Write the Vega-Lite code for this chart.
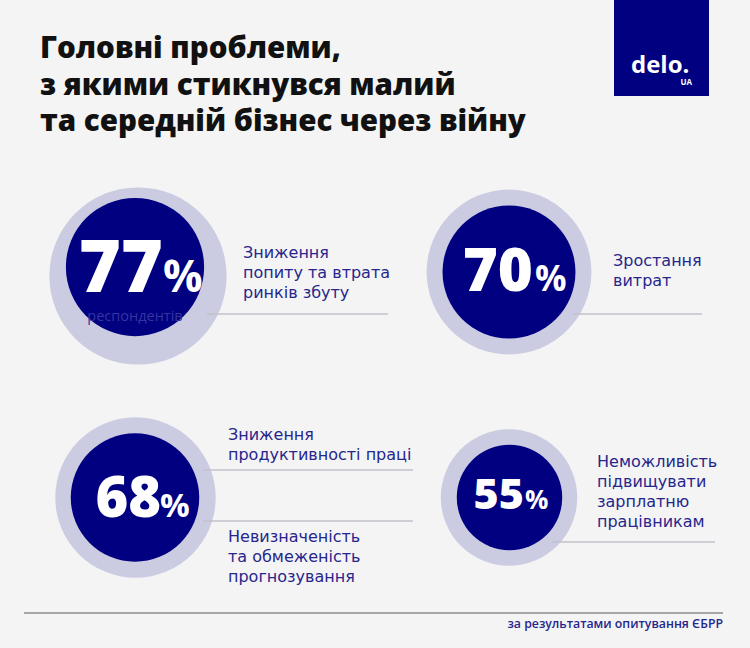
{
  "$schema": "https://vega.github.io/schema/vega-lite/v6.json",
  "width": 750,
  "height": 648,
  "autosize": {"type": "fit", "contains": "padding"},
  "padding": 0,
  "background": "#f4f4f4",
  "config": {"view": {"stroke": null}, "text": {"font": "Open Sans"}},
  "datasets": {
    "stats": [
      {"value": 77, "cx": 138, "cy": 276, "ix": 135, "iy": 267, "num": "77", "nx": 163, "ny": 292, "px": 163},
      {"value": 70, "cx": 509, "cy": 272, "ix": 509, "iy": 272, "num": "70", "nx": 533, "ny": 291, "px": 535},
      {"value": 68, "cx": 135.5, "cy": 497.5, "ix": 135, "iy": 497.5, "num": "68", "nx": 161, "ny": 517, "px": 160},
      {"value": 55, "cx": 509, "cy": 497.5, "ix": 509.5, "iy": 497.5, "num": "55", "nx": 524, "ny": 509, "px": 525}
    ],
    "labels": [
      {"x": 243, "y": 258, "text": "Зниження\nпопиту та втрата\nринків збуту"},
      {"x": 613, "y": 266, "text": "Зростання\nвитрат"},
      {"x": 228, "y": 440, "text": "Зниження\nпродуктивності праці"},
      {"x": 228, "y": 542, "text": "Невизначеність\nта обмеженість\nпрогнозування"},
      {"x": 597, "y": 467, "text": "Неможливість\nпідвищувати\nзарплатню\nпрацівникам"}
    ],
    "rules": [
      {"x": 207, "x2": 388, "y": 314},
      {"x": 573, "x2": 702, "y": 314},
      {"x": 203, "x2": 413, "y": 470},
      {"x": 203, "x2": 413, "y": 521},
      {"x": 552, "x2": 715, "y": 542}
    ]
  },
  "resolve": {"scale": {"size": "independent"}},
  "layer": [
    {
      "data": {"values": [{"x": 614, "x2": 709, "y": 0, "y2": 96}]},
      "mark": {"type": "rect", "fill": "#000080"},
      "encoding": {
        "x": {"field": "x", "type": "quantitative", "scale": {"domain": [0, 750], "nice": false, "zero": false}, "axis": null},
        "x2": {"field": "x2"},
        "y": {"field": "y", "type": "quantitative", "scale": {"domain": [0, 648], "nice": false, "zero": false, "reverse": true}, "axis": null},
        "y2": {"field": "y2"}
      }
    },
    {
      "data": {"values": [{"x": 631, "y": 73, "text": "delo."}]},
      "mark": {"type": "text", "align": "left", "baseline": "alphabetic", "fontSize": 24, "fontWeight": 700, "fill": "#ffffff"},
      "encoding": {
        "x": {"field": "x", "type": "quantitative", "axis": null},
        "y": {"field": "y", "type": "quantitative", "axis": null},
        "text": {"field": "text"}
      }
    },
    {
      "data": {"values": [{"x": 692, "y": 85, "text": "UA"}]},
      "mark": {"type": "text", "align": "right", "baseline": "alphabetic", "fontSize": 8, "fontWeight": 700, "fill": "#ffffff"},
      "encoding": {
        "x": {"field": "x", "type": "quantitative", "axis": null},
        "y": {"field": "y", "type": "quantitative", "axis": null},
        "text": {"field": "text"}
      }
    },
    {
      "data": {"values": [{"x": 40, "y": 58, "text": "Головні проблеми,\nз якими стикнувся малий\nта середній бізнес через війну"}]},
      "mark": {"type": "text", "align": "left", "baseline": "alphabetic", "fontSize": 29.5, "fontWeight": 800, "fill": "#111111", "lineBreak": "\n", "lineHeight": 36.5},
      "encoding": {
        "x": {"field": "x", "type": "quantitative", "axis": null},
        "y": {"field": "y", "type": "quantitative", "axis": null},
        "text": {"field": "text"}
      }
    },
    {
      "data": {"name": "stats"},
      "mark": {"type": "point", "shape": "circle", "filled": true, "fill": "#cbcce2", "opacity": 1, "strokeWidth": 0},
      "encoding": {
        "x": {"field": "cx", "type": "quantitative", "axis": null},
        "y": {"field": "cy", "type": "quantitative", "axis": null},
        "size": {"field": "value", "type": "quantitative", "scale": {"type": "linear", "domain": [55, 68, 70, 77], "range": [18627, 25730, 27172, 31416]}, "legend": null}
      }
    },
    {
      "data": {"name": "rules"},
      "mark": {"type": "rule", "stroke": "#c2c2ca", "strokeWidth": 1.5},
      "encoding": {
        "x": {"field": "x", "type": "quantitative", "axis": null},
        "x2": {"field": "x2"},
        "y": {"field": "y", "type": "quantitative", "axis": null}
      }
    },
    {
      "data": {"values": [{"x": 24, "x2": 723, "y": 613}]},
      "mark": {"type": "rule", "stroke": "#8c8c8c", "strokeWidth": 1.5},
      "encoding": {
        "x": {"field": "x", "type": "quantitative", "axis": null},
        "x2": {"field": "x2"},
        "y": {"field": "y", "type": "quantitative", "axis": null}
      }
    },
    {
      "data": {"name": "stats"},
      "mark": {"type": "point", "shape": "circle", "filled": true, "fill": "#000080", "opacity": 1, "strokeWidth": 0},
      "encoding": {
        "x": {"field": "ix", "type": "quantitative", "axis": null},
        "y": {"field": "iy", "type": "quantitative", "axis": null},
        "size": {"field": "value", "type": "quantitative", "scale": {"type": "linear", "domain": [55, 68, 70, 77], "range": [11122, 16513, 17671, 19113]}, "legend": null}
      }
    },
    {
      "data": {"name": "stats"},
      "mark": {"type": "text", "align": "right", "baseline": "alphabetic", "fontWeight": 800, "fill": "#ffffff"},
      "encoding": {
        "x": {"field": "nx", "type": "quantitative", "axis": null},
        "y": {"field": "ny", "type": "quantitative", "axis": null},
        "text": {"field": "num"},
        "size": {"field": "value", "type": "quantitative", "scale": {"type": "linear", "domain": [55, 68, 70, 77], "range": [43, 56, 60, 72]}, "legend": null}
      }
    },
    {
      "data": {"name": "stats"},
      "mark": {"type": "text", "align": "left", "baseline": "alphabetic", "fontWeight": 700, "fill": "#ffffff", "text": "%"},
      "encoding": {
        "x": {"field": "px", "type": "quantitative", "axis": null},
        "y": {"field": "ny", "type": "quantitative", "axis": null},
        "size": {"field": "value", "type": "quantitative", "scale": {"type": "linear", "domain": [55, 68, 70, 77], "range": [26, 33, 35, 44]}, "legend": null}
      }
    },
    {
      "data": {"values": [{"x": 135, "y": 321, "text": "респондентів"}]},
      "mark": {"type": "text", "align": "center", "baseline": "alphabetic", "fontSize": 14.5, "fill": "#3535a0"},
      "encoding": {
        "x": {"field": "x", "type": "quantitative", "axis": null},
        "y": {"field": "y", "type": "quantitative", "axis": null},
        "text": {"field": "text"}
      }
    },
    {
      "data": {"name": "labels"},
      "mark": {"type": "text", "font": "DejaVu Sans", "align": "left", "baseline": "alphabetic", "fontSize": 16, "fill": "#26268c", "lineBreak": "\n", "lineHeight": 20},
      "encoding": {
        "x": {"field": "x", "type": "quantitative", "axis": null},
        "y": {"field": "y", "type": "quantitative", "axis": null},
        "text": {"field": "text"}
      }
    },
    {
      "data": {"values": [{"x": 723, "y": 628, "text": "за результатами опитування ЄБРР"}]},
      "mark": {"type": "text", "align": "right", "baseline": "alphabetic", "fontSize": 12.3, "fontWeight": 600, "fill": "#26268c"},
      "encoding": {
        "x": {"field": "x", "type": "quantitative", "axis": null},
        "y": {"field": "y", "type": "quantitative", "axis": null},
        "text": {"field": "text"}
      }
    }
  ]
}
